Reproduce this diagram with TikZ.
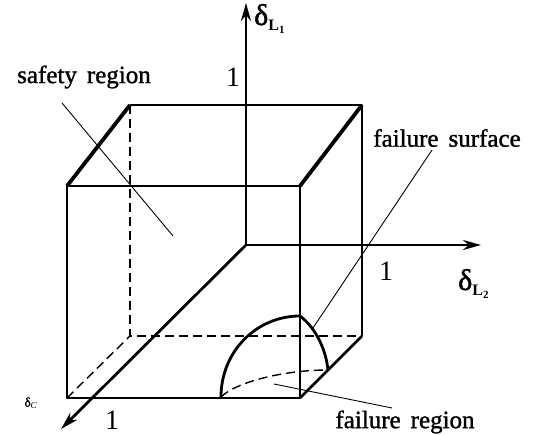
\documentclass[tikz,border=0pt]{standalone}
\usepackage{fontspec}
\setmainfont{Liberation Serif}
\newfontfamily\labfont[FakeBold=1.2, WordSpace=1.6]{Liberation Serif}
\newfontfamily\greekfont[FakeBold=1.5]{Liberation Serif}
\usetikzlibrary{arrows.meta}
\newcommand{\dlab}[2]{{\greekfont δ}\raisebox{-0.2em}{\fontsize{16}{16}\selectfont\bfseries #1\raisebox{-0.15em}{\fontsize{11}{11}\selectfont #2}}}

\begin{document}
\begin{tikzpicture}[x=1pt, y=-1pt, line join=round,
    edge/.style={line width=2.8pt},
    depth/.style={line width=3.8pt},
    hidden/.style={line width=1.4pt, dash pattern=on 9pt off 5pt},
    axis/.style={line width=2.8pt, -{Stealth[length=18pt,width=10pt]}},
    leader/.style={line width=0.9pt},
    lab/.style={font=\fontsize{25}{27}\labfont, inner sep=0pt},
    num/.style={font=\fontsize{28}{28}\selectfont, inner sep=0pt},
    axlab/.style={font=\fontsize{30}{30}\selectfont, inner sep=0pt, anchor=base west}]
  \useasboundingbox (0,0) rectangle (544,435);
  \coordinate (FTL) at (67,186);
  \coordinate (FTR) at (300,186);
  \coordinate (FBL) at (67,398);
  \coordinate (FBR) at (300,398);
  \coordinate (BTL) at (130,105);
  \coordinate (BTR) at (362,105);
  \coordinate (BBL) at (130,336);
  \coordinate (BBR) at (362,336);
  \coordinate (O) at (246,245);
  \coordinate (L1) at (246,3);
  \coordinate (L2) at (481,245);
  \coordinate (C) at (61,429);
  \coordinate (arcA) at (221,397);
  \coordinate (arcT) at (300,316);
  \coordinate (arcB) at (328,370);

  \draw[hidden] (BTL) -- (BBL) -- (BBR);
  \draw[hidden] (FBL) -- (BBL);
  \draw[edge] (FTL) -- (FTR) -- (FBR) -- (FBL) -- cycle;
  \draw[edge] (BTL) -- (BTR) -- (BBR);
  \draw[depth] (FTL) -- (BTL);
  \draw[depth] (FTR) -- (BTR);
  \draw[edge] (FBR) -- (BBR);

  \draw[axis] (O) -- (L1);
  \draw[axis] (O) -- (L2);
  \draw[axis] (O) -- (C);

  \draw[edge] (arcA) .. controls (221,352) and (256,316) .. (arcT);
  \draw[edge] (arcT) .. controls (316,328) and (326,350) .. (arcB);
  \draw[hidden] (arcA) .. controls (236,382) and (284,370) .. (arcB);

  \node (dL1) [axlab] at (254,25) {\dlab{L}{1}};
  \node (dL2) [axlab] at (458,290) {\dlab{L}{2}};
  \node (dC) [font=\fontsize{13}{13}\selectfont, inner sep=0pt] at (31,403) {{\greekfont δ}\textsubscript{\textit{C}}};
  \node (one1) [num] at (233,77) {1};
  \node (one2) [num] at (386,271) {1};
  \node (one3) [num] at (112,420) {1};

  \node (safe) [lab] at (84,77) {safety region};
  \node (surf) [lab] at (447,138) {failure surface};
  \node (freg) [lab] at (405,422) {failure region};
  \coordinate (safeA) at (62,103);
  \coordinate (safeB) at (173,236);
  \coordinate (surfA) at (432,150);
  \coordinate (surfB) at (313,328);
  \coordinate (fregA) at (392,408);
  \coordinate (fregB) at (274,384);
  \draw[leader] (safeA) -- (safeB);
  \draw[leader] (surfA) -- (surfB);
  \draw[leader] (fregA) -- (fregB);
\end{tikzpicture}
\end{document}
